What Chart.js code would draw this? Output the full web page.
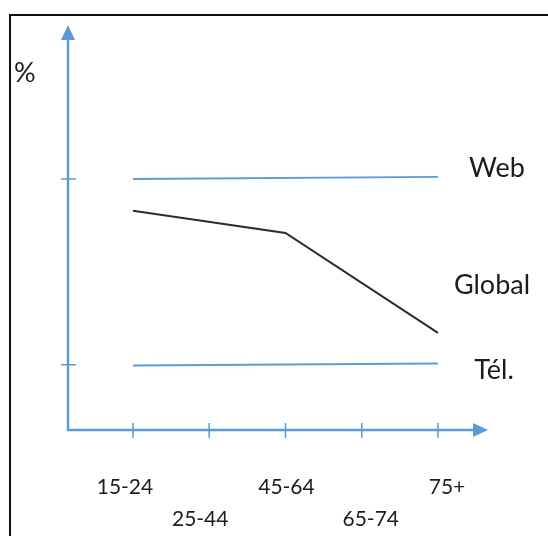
<!DOCTYPE html>
<html>
<head>
<meta charset="utf-8">
<script src="https://cdn.jsdelivr.net/npm/chart.js@4/dist/chart.umd.min.js"></script>
<style>
  html, body { margin: 0; padding: 0; background: #fff; }
  #wrap { position: relative; width: 548px; height: 536px; }
</style>
</head>
<body>
<div id="wrap"><canvas id="chart" width="548" height="536"></canvas></div>
<script>
// age groups on the x axis
var categories = ['15-24', '25-44', '45-64', '65-74', '75+'];
// rough reading of the sketch (no real scale on the y axis)
var webValues = [60, null, null, null, 60.5];
var globalValues = [52.4, null, 47.1, null, 23.2];
var telValues = [15.4, null, null, null, 15.9];
var yTickMarks = [60, 15.6];
var seriesNames = ['Web', 'Global', 'Tél.'];
var yAxisTitle = '%';

var blue = '#5b9bd5';
var dark = '#2b2b2b';
var tickFont = '21px Lato, "Open Sans", sans-serif';
var nameFont = '27px Lato, "Open Sans", sans-serif';
// the labels in the sketch are not quite centred on their ticks
var labelNudge = [-8, -9, 1, 9, 9];

var toPoints = function (values) {
  var pts = [];
  for (var i = 0; i < values.length; i++) {
    pts.push({x: i, y: values[i]});
  }
  return pts;
};

var sketchAxes = {
  id: 'sketchAxes',
  beforeDraw: function (chart) {
    var ctx = chart.ctx;
    var area = chart.chartArea;
    var xs = chart.scales.x;
    var ys = chart.scales.y;

    // frame
    ctx.save();
    ctx.strokeStyle = '#111';
    ctx.lineWidth = 2;
    ctx.beginPath();
    ctx.moveTo(10, 536);
    ctx.lineTo(10, 15);
    ctx.lineTo(548, 15);
    ctx.stroke();

    // axes
    ctx.strokeStyle = blue;
    ctx.fillStyle = blue;
    ctx.lineWidth = 2.5;
    ctx.beginPath();
    ctx.moveTo(area.left, area.top + 12);
    ctx.lineTo(area.left, area.bottom);
    ctx.lineTo(area.right - 12, area.bottom);
    ctx.stroke();

    // arrow heads
    ctx.beginPath();
    ctx.moveTo(area.left, area.top);
    ctx.lineTo(area.left - 7, area.top + 15);
    ctx.lineTo(area.left + 7, area.top + 15);
    ctx.closePath();
    ctx.fill();
    ctx.beginPath();
    ctx.moveTo(area.right, area.bottom);
    ctx.lineTo(area.right - 15, area.bottom - 7);
    ctx.lineTo(area.right - 15, area.bottom + 7);
    ctx.closePath();
    ctx.fill();

    // tick marks
    ctx.lineWidth = 1.5;
    ctx.beginPath();
    for (var i = 0; i < categories.length; i++) {
      var px = xs.getPixelForValue(i);
      ctx.moveTo(px, area.bottom - 7);
      ctx.lineTo(px, area.bottom + 8);
    }
    for (var j = 0; j < yTickMarks.length; j++) {
      var py = ys.getPixelForValue(yTickMarks[j]);
      ctx.moveTo(area.left - 7, py);
      ctx.lineTo(area.left + 8, py);
    }
    ctx.stroke();

    // category labels, staggered
    ctx.fillStyle = '#1c1c1c';
    ctx.font = tickFont;
    ctx.textAlign = 'center';
    ctx.textBaseline = 'middle';
    for (var k = 0; k < categories.length; k++) {
      var lx = xs.getPixelForValue(k) + labelNudge[k];
      var ly = k % 2 === 0 ? area.bottom + 57 : area.bottom + 89;
      ctx.fillText(categories[k], lx, ly);
    }

    // axis title
    ctx.font = nameFont;
    ctx.textAlign = 'left';
    ctx.fillText(yAxisTitle, 14, 73);

    // series names at the right end
    ctx.textAlign = 'center';
    var right = xs.getPixelForValue(categories.length - 1);
    ctx.fillText(seriesNames[0], right + 59, ys.getPixelForValue(webValues[4]) - 9);
    ctx.fillText(seriesNames[1], right + 54, ys.getPixelForValue(globalValues[4]) - 48);
    ctx.fillText(seriesNames[2], right + 56, ys.getPixelForValue(telValues[4]) + 7);
    ctx.restore();
  }
};

var ctx = document.getElementById('chart').getContext('2d');
var chart = new Chart(ctx, {
  type: 'line',
  data: {
    datasets: [
      {label: seriesNames[0], data: toPoints(webValues), borderColor: blue, borderWidth: 2},
      {label: seriesNames[1], data: toPoints(globalValues), borderColor: dark, borderWidth: 2},
      {label: seriesNames[2], data: toPoints(telValues), borderColor: blue, borderWidth: 2}
    ]
  },
  options: {
    responsive: false,
    animation: false,
    spanGaps: true,
    elements: {point: {radius: 0}, line: {tension: 0}},
    layout: {padding: {left: 68, right: 60, top: 25, bottom: 106}},
    plugins: {legend: {display: false}, tooltip: {enabled: false}},
    scales: {
      x: {type: 'linear', display: false, min: -0.852, max: 4.656},
      y: {display: false, min: 0, max: 96.8}
    }
  },
  plugins: [sketchAxes]
});
</script>
</body>
</html>
